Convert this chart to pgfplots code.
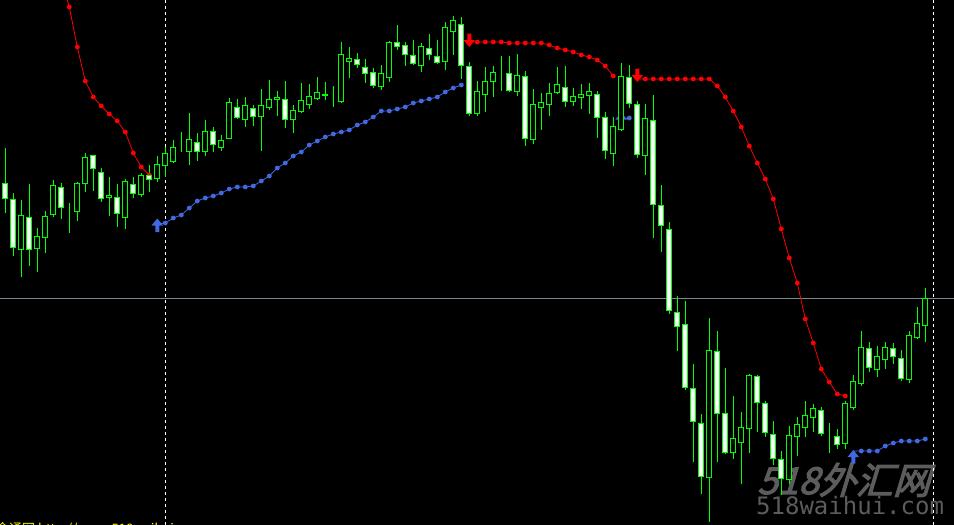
\documentclass[border=0pt]{standalone}
\usepackage{pgfplots}
\usepackage{pgfplotstable}
\pgfplotsset{compat=1.18}
\usepackage{fontspec}
\setmainfont{Liberation Sans}
\newfontfamily\cjk{Noto Sans CJK SC}
\newfontfamily\wmcjk[FakeSlant=0.3,FakeBold=3]{Noto Sans CJK SC}
\newfontfamily\wmmono{DejaVu Sans Mono}
\definecolor{cgreen}{RGB}{0,255,0}
\definecolor{sarred}{RGB}{255,0,0}
\definecolor{sarblue}{RGB}{65,105,225}
\definecolor{hline}{RGB}{119,136,153}
\definecolor{wmgray}{RGB}{92,92,92}
\definecolor{ytext}{RGB}{255,255,0}

\pgfdeclareplotmark{sardown}{%
  \pgfpathmoveto{\pgfpoint{-2pt}{7pt}}%
  \pgfpathlineto{\pgfpoint{2pt}{7pt}}%
  \pgfpathlineto{\pgfpoint{2pt}{0.5pt}}%
  \pgfpathlineto{\pgfpoint{5.8pt}{0.5pt}}%
  \pgfpathlineto{\pgfpoint{0pt}{-6.5pt}}%
  \pgfpathlineto{\pgfpoint{-5.8pt}{0.5pt}}%
  \pgfpathlineto{\pgfpoint{-2pt}{0.5pt}}%
  \pgfpathclose\pgfusepathqfill}
\pgfdeclareplotmark{sarup}{%
  \pgfpathmoveto{\pgfpoint{-2pt}{-7pt}}%
  \pgfpathlineto{\pgfpoint{2pt}{-7pt}}%
  \pgfpathlineto{\pgfpoint{2pt}{-0.5pt}}%
  \pgfpathlineto{\pgfpoint{5.8pt}{-0.5pt}}%
  \pgfpathlineto{\pgfpoint{0pt}{6.5pt}}%
  \pgfpathlineto{\pgfpoint{-5.8pt}{-0.5pt}}%
  \pgfpathlineto{\pgfpoint{-2pt}{-0.5pt}}%
  \pgfpathclose\pgfusepathqfill}

% i: bar index, hi/lo: wick ends, top/bot: body ends (screen pixels from top), w=1 white body
\pgfplotstableread{
i hi lo top bot w
0 148 213 183 198 1
1 193 256 199 247 1
2 200 277 215 249 0
3 184 266 217 249 1
4 228 272 236 248 0
5 211 253 216 237 0
6 180 217 185 214 0
7 183 219 187 207 1
8 203 233 209 209 0
9 182 221 183 211 0
10 153 192 157 183 0
11 155 191 155 168 1
12 168 202 172 198 1
13 177 216 195 197 0
14 184 227 197 213 1
15 179 229 181 217 0
16 177 198 184 193 1
17 173 197 175 194 0
18 165 192 175 179 1
19 156 182 164 178 0
20 147 177 153 165 0
21 140 163 147 161 0
22 132 152 145 145 0
23 113 165 139 151 0
24 133 161 142 151 1
25 120 156 131 151 0
26 127 152 131 144 1
27 135 151 140 147 0
28 98 138 102 138 0
29 99 119 107 117 1
30 97 127 105 119 0
31 105 126 108 116 1
32 89 151 105 116 0
33 80 110 99 107 0
34 91 116 97 99 0
35 81 128 99 119 1
36 105 133 110 119 0
37 83 113 100 111 0
38 84 109 96 104 0
39 77 100 92 98 0
40 82 100 94.5 95.5 0
41 86 107 98 98 0
42 42 103 54 101 0
43 47 78 58 61 0
44 53 68 59 64 1
45 59 83 67 73 1
46 68 88 72 85 1
47 65 90 73 86 0
48 41 82 42 77 0
49 25 50 42 46 1
50 42 66 45 54 1
51 40 65 55 63 1
52 43 72 46 65 0
53 34 60 48 54 1
54 40 64 56 62 1
55 22 70 27 61 0
56 16 55 20 31 0
57 17 79 24 65 1
58 62 116 66 113 1
59 81 116 91 113 0
60 67 112 81 94 0
61 66 97 72 81 0
62 56 91 74 74 0
63 56 92 73 90 1
64 54 96 75 91 0
65 71 146 76 138 1
66 89 144 104 139 0
67 93 130 102 107 0
68 83 116 93 104 0
69 67 94 84 92 0
70 66 107 87 101 1
71 88 106 96 101 0
72 84 109 94 97 0
73 83 114 91 95 0
74 91 138 94 117 1
75 112 159 117 150 1
76 117 166 126 153 0
77 63 131 76 129 0
78 65 108 77 103 1
79 101 158 104 154 1
80 104 175 118 155 0
81 95 238 120 204 1
82 185 252 205 225 1
83 222 314 229 310 1
84 296 351 312 326 1
85 301 390 324 387 1
86 364 462 388 421 1
87 414 494 423 476 1
88 318 522 350 477 0
89 331 462 351 413 1
90 368 454 413 452 1
91 396 459 438 452 0
92 412 484 427 442 0
93 374 453 375 428 0
94 375 432 376 402 1
95 401 437 403 432 1
96 421 465 434 458 1
97 451 495 459 478 1
98 426 484 435 479 0
99 417 456 424 436 0
100 401 437 415 427 0
101 404 432 408 417 0
102 407 436 410 433 1
103 423 453 435 435 0
104 429 449 436 444 1
105 401 449 403 443 0
106 375 410 381 407 0
107 331 386 347 383 0
108 342 372 348 367 1
109 346 377 356 369 0
110 342 369 347 359 0
111 343 364 348 356 1
112 350 381 358 378 1
113 331 383 335 379 0
114 307 339 323 337 0
115 288 342 298 325 0
}\candles

\pgfplotsset{chart/.style={
  width=954pt, height=525pt, scale only axis,
  at={(0pt,0pt)}, anchor=south west,
  xmin=-0.6625, xmax=118.5875, ymin=0, ymax=525, y dir=reverse,
  hide axis, clip=true}}

\begin{document}
\begin{tikzpicture}[x=1pt,y=1pt]
\fill[black] (0,0) rectangle (954,525);
% watermark
\node[anchor=base west, inner sep=0pt, text=wmgray, font=\wmcjk\fontsize{37}{37}\selectfont] at (757,31) {518外汇网};
\node[anchor=base west, inner sep=0pt, text=wmgray, font=\wmmono\fontsize{24}{24}\selectfont] at (756,10) {518waihui.com};

\begin{axis}[chart]
% separators
\addplot[white, line width=1pt, dash pattern=on 3pt off 3pt] coordinates {(20,0) (20,525)};
\addplot[white, line width=1pt, dash pattern=on 3pt off 3pt] coordinates {(116,0) (116,525)};
\addplot[hline, line width=1pt] coordinates {(-1,298) (120,298)};
% SAR red
\addplot[sarred, line width=0.8pt, mark=*, mark size=2pt, mark options={fill=sarred, draw=sarred}] coordinates {
(7,-21) (8,7) (9,47) (10,81) (11,97) (12,106) (13,114) (14,121) (15,132) (16,153) (17,167) (18,175)};
\addplot[sarred, line width=0.8pt, mark=*, mark size=2pt, mark repeat=1, mark phase=2, mark options={fill=sarred, draw=sarred}] coordinates {
(58,42) (59,42) (60,42) (61,42) (62,42) (63,43) (64,43) (65,43) (66,43) (67,43) (68,45) (69,48) (70,50) (71,52) (72,55) (73,57) (74,60) (75,66) (76,76)};
\addplot[sarred, line width=0.8pt, mark=*, mark size=2pt, mark repeat=1, mark phase=2, mark options={fill=sarred, draw=sarred}] coordinates {
(79,79) (80,79) (81,79) (82,79) (83,79) (84,79) (85,79) (86,79) (87,79) (88,79) (89,86) (90,97) (91,111) (92,127) (93,146) (94,163) (95,179) (96,199) (97,229) (98,258) (99,283) (100,319) (101,343) (102,369) (103,382) (104,394) (105,396)};
% SAR blue
\addplot[sarblue, line width=0.8pt, mark=*, mark size=2pt, mark repeat=1, mark phase=2, mark options={fill=sarblue, draw=sarblue}] coordinates {
(19,224) (20,223) (21,218) (22,215) (23,208) (24,201) (25,198) (26,196) (27,193) (28,189) (29,187) (30,187) (31,186) (32,181) (33,176) (34,168) (35,163) (36,156) (37,152) (38,145) (39,141) (40,137) (41,134) (42,132) (43,130) (44,125) (45,122) (46,117) (47,111) (48,111) (49,109) (50,107) (51,103) (52,101) (53,99) (54,97) (55,92) (56,88) (57,85)};
\addplot[sarblue, line width=0.8pt, mark=*, mark size=2pt, mark repeat=1, mark phase=2, mark options={fill=sarblue, draw=sarblue}] coordinates {
(77,119) (78,118)};
\addplot[sarblue, line width=0.8pt, mark=*, mark size=2pt, mark repeat=1, mark phase=2, mark options={fill=sarblue, draw=sarblue}] coordinates {
(106,451) (107,451) (108,451) (109,451) (110,446) (111,443) (112,441) (113,441) (114,441) (115,439)};
% arrows
\addplot[only marks, mark=sardown, mark options={fill=sarred}] coordinates {(58,40.5) (79,75.5)};
\addplot[only marks, mark=sarup, mark options={fill=sarblue}] coordinates {(19,225) (77,119) (106,456.5)};
% wicks
\addplot[draw=none, mark=none, error bars/.cd, y dir=plus, y explicit, error mark=none,
  error bar style={cgreen, line width=1pt}]
  table[x=i, y=hi, y error plus expr=\thisrow{lo}-\thisrow{hi}] {\candles};
\end{axis}

\begin{axis}[chart, ybar stacked, bar width=4.8pt]
\addplot[draw=none, fill=none] table[x=i, y=top] {\candles};
\addplot[draw=cgreen, fill=white, line width=0.9pt] table[x=i, y expr={(\thisrow{bot}-\thisrow{top})*\thisrow{w}}] {\candles};
\addplot[draw=cgreen, fill=black, line width=0.9pt] table[x=i, y expr={(\thisrow{bot}-\thisrow{top})*(1-\thisrow{w})}] {\candles};
\end{axis}

\node[anchor=base west, inner sep=0pt, text=ytext, font=\cjk\fontsize{13}{13}\selectfont] at (-4,-8.5) {金通网 http://www.518waihui.com};
\pgfresetboundingbox
\useasboundingbox (0,0) rectangle (954,525);
\end{tikzpicture}
\end{document}
